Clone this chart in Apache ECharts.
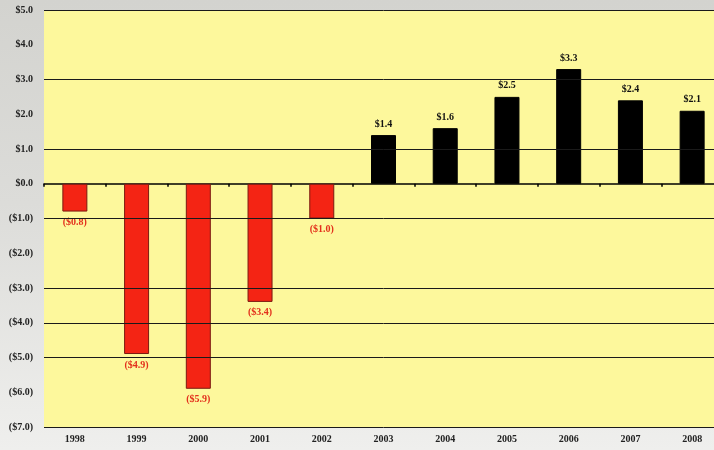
<!DOCTYPE html>
<html>
<head>
<meta charset="utf-8">
<script src="https://cdn.jsdelivr.net/npm/echarts@6/dist/echarts.min.js"></script>
<style>
html, body { margin: 0; padding: 0; }
body { width: 714px; height: 450px; overflow: hidden; background: linear-gradient(180deg, #d3d3cf 0%, #dcdcd9 45%, #efefed 100%); }
#chart { width: 730px; height: 450px; }
</style>
</head>
<body>
<div id="chart"></div>
<script>
// years and net values (in $)
var years = ['1998', '1999', '2000', '2001', '2002', '2003', '2004', '2005', '2006', '2007', '2008'];
var netValues = [-0.8, -4.9, -5.9, -3.4, -1.0, 1.4, 1.6, 2.5, 3.3, 2.4, 2.1];
// horizontal rules that appear in the picture
var gridValues = [5, 3, 1, -1, -3, -4, -5, -7];

function money(v) {
    var s = '$' + Math.abs(v).toFixed(1);
    return v < 0 ? '(' + s + ')' : s;
}

var barData = netValues.map(function (v) {
    var neg = v < 0;
    return {
        value: v,
        itemStyle: {
            color: neg ? '#f42414' : '#000000',
            borderColor: neg ? '#7a1a10' : '#000000',
            borderWidth: 1
        },
        label: {
            position: neg ? 'bottom' : 'top',
            color: neg ? '#e3301c' : '#111111'
        }
    };
});

var chart = echarts.init(document.getElementById('chart'));
chart.setOption({
    animation: false,
    grid: {
        left: 44, top: 10, width: 679, height: 417,
        show: true, backgroundColor: '#fdf89c', borderWidth: 0
    },
    xAxis: [{
        type: 'category',
        data: years,
        position: 'bottom',
        axisLine: { show: false, onZero: false },
        axisTick: { show: false },
        axisLabel: {
            margin: 7, color: '#222', fontSize: 10, fontWeight: 'bold',
            fontFamily: 'Liberation Serif'
        }
    }, {
        type: 'category',
        data: years,
        position: 'bottom',
        axisLine: { show: true, onZero: true, lineStyle: { color: '#000', width: 1.5 } },
        axisTick: { show: true, length: 3, lineStyle: { color: '#000', width: 1.5 } },
        axisLabel: { show: false }
    }],
    yAxis: {
        type: 'value',
        min: -7, max: 5, interval: 1,
        axisLine: { show: false },
        axisTick: { show: false },
        splitLine: { show: false },
        axisLabel: {
            margin: 11, color: '#222', fontSize: 10, fontWeight: 'bold',
            fontFamily: 'Liberation Serif',
            formatter: money
        }
    },
    series: [{
        type: 'line',
        data: [],
        z: 1,
        markLine: {
            silent: true,
            symbol: 'none',
            label: { show: false },
            lineStyle: { color: '#1a1a1a', width: 1, type: 'solid' },
            data: gridValues.map(function (v) { return { yAxis: v }; })
        }
    }, {
        type: 'bar',
        data: barData,
        barWidth: 25,
        z: 3,
        label: {
            show: true,
            distance: 6,
            fontSize: 10,
            fontWeight: 'bold',
            fontFamily: 'Liberation Serif',
            formatter: function (p) { return money(p.value); }
        }
    }]
});
</script>
</body>
</html>
